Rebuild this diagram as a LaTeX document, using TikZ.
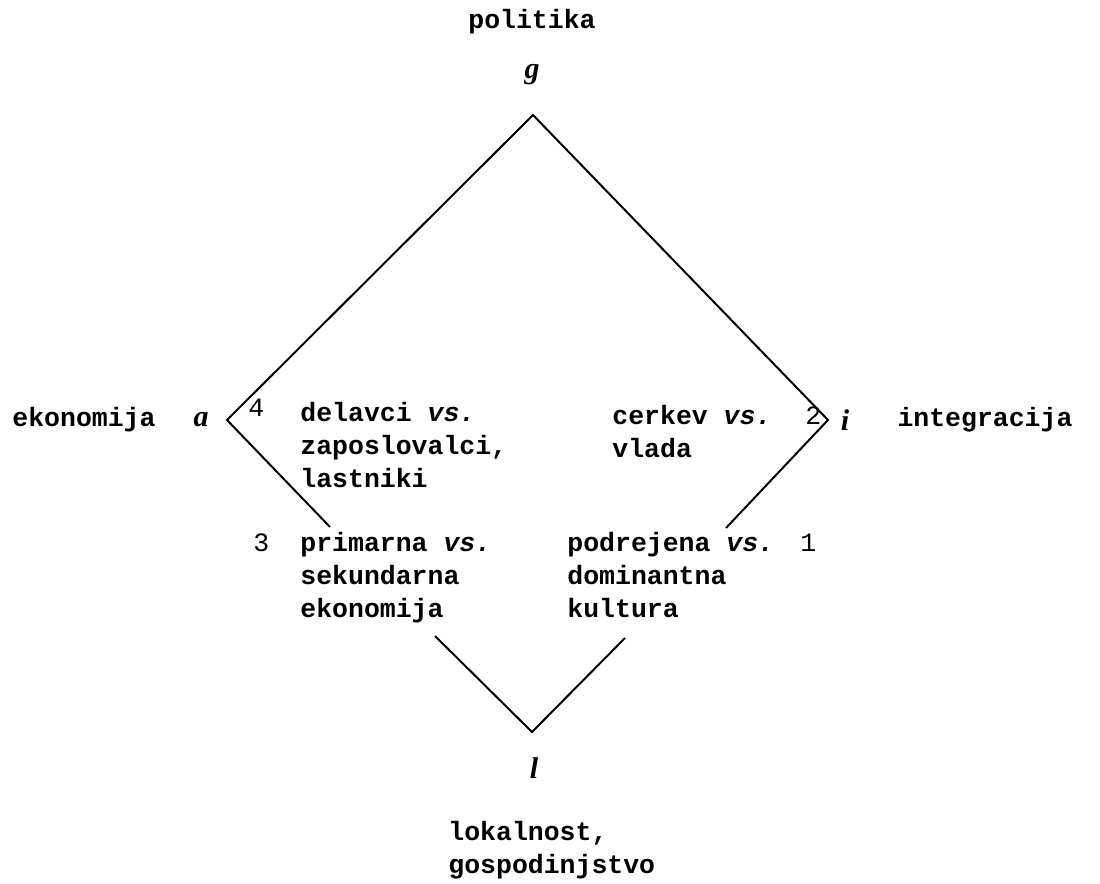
\documentclass[tikz,border=0pt]{standalone}
\usepackage{fontspec}
\setmainfont{Liberation Mono}
\newfontfamily\letterfont{Liberation Serif}
\newcommand{\vs}{\textit{vs.}}

\tikzset{
  term/.style={font=\fontsize{13.25}{16.5}\selectfont\bfseries, inner sep=0pt},
  corner/.style={font=\fontsize{15}{15}\selectfont\letterfont\bfseries\itshape, inner sep=0pt},
  pair/.style={font=\fontsize{13.25}{16.5}\selectfont\bfseries, align=left, inner sep=0pt, anchor=north west},
  num/.style={font=\fontsize{13.25}{16.5}\selectfont, inner sep=0pt, anchor=base west},
  side/.style={line width=1pt, line join=miter}
}

\begin{document}
\begin{tikzpicture}[x=0.5pt,y=-0.5pt]
\useasboundingbox (0,0) rectangle (1100,884);
% the four functions
\node[term] (pol) at (532,22) {politika};
\node[term] (eko) at (84,420) {ekonomija};
\node[term] (int) at (985,420) {integracija};
\node[term, align=left, anchor=north west] (lok) at (448,821) {lokalnost,\\gospodinjstvo};
\node[corner] (g) at (532,75) {g};
\node[corner] (a) at (201,420) {a};
\node[corner] (i) at (845,420) {i};
\node[corner] (l) at (534,768) {l};
% the diamond
\coordinate (G) at (533,115);
\coordinate (A) at (227,420);
\coordinate (I) at (828,420);
\coordinate (L) at (532,732);
\coordinate (A3) at (330,527);
\coordinate (I1) at (726,528);
\coordinate (L3) at (435,636);
\coordinate (L1) at (625,638);
\draw[side] (A3) -- (A) -- (G) -- (I) -- (I1);
\draw[side] (L3) -- (L) -- (L1);
% the four cleavages
\node[num] (n4) at (248,416) {4};
\node[pair] (p4) at (300,402) {delavci \vs\\zaposlovalci,\\lastniki};
\node[num] (n2) at (805,424) {2};
\node[pair] (p2) at (612,405) {cerkev \vs\\vlada};
\node[num] (n3) at (253,551) {3};
\node[pair] (p3) at (300,532) {primarna \vs\\sekundarna\\ekonomija};
\node[num] (n1) at (800,551) {1};
\node[pair] (p1) at (567,532) {podrejena \vs\\dominantna\\kultura};
\end{tikzpicture}
\end{document}
